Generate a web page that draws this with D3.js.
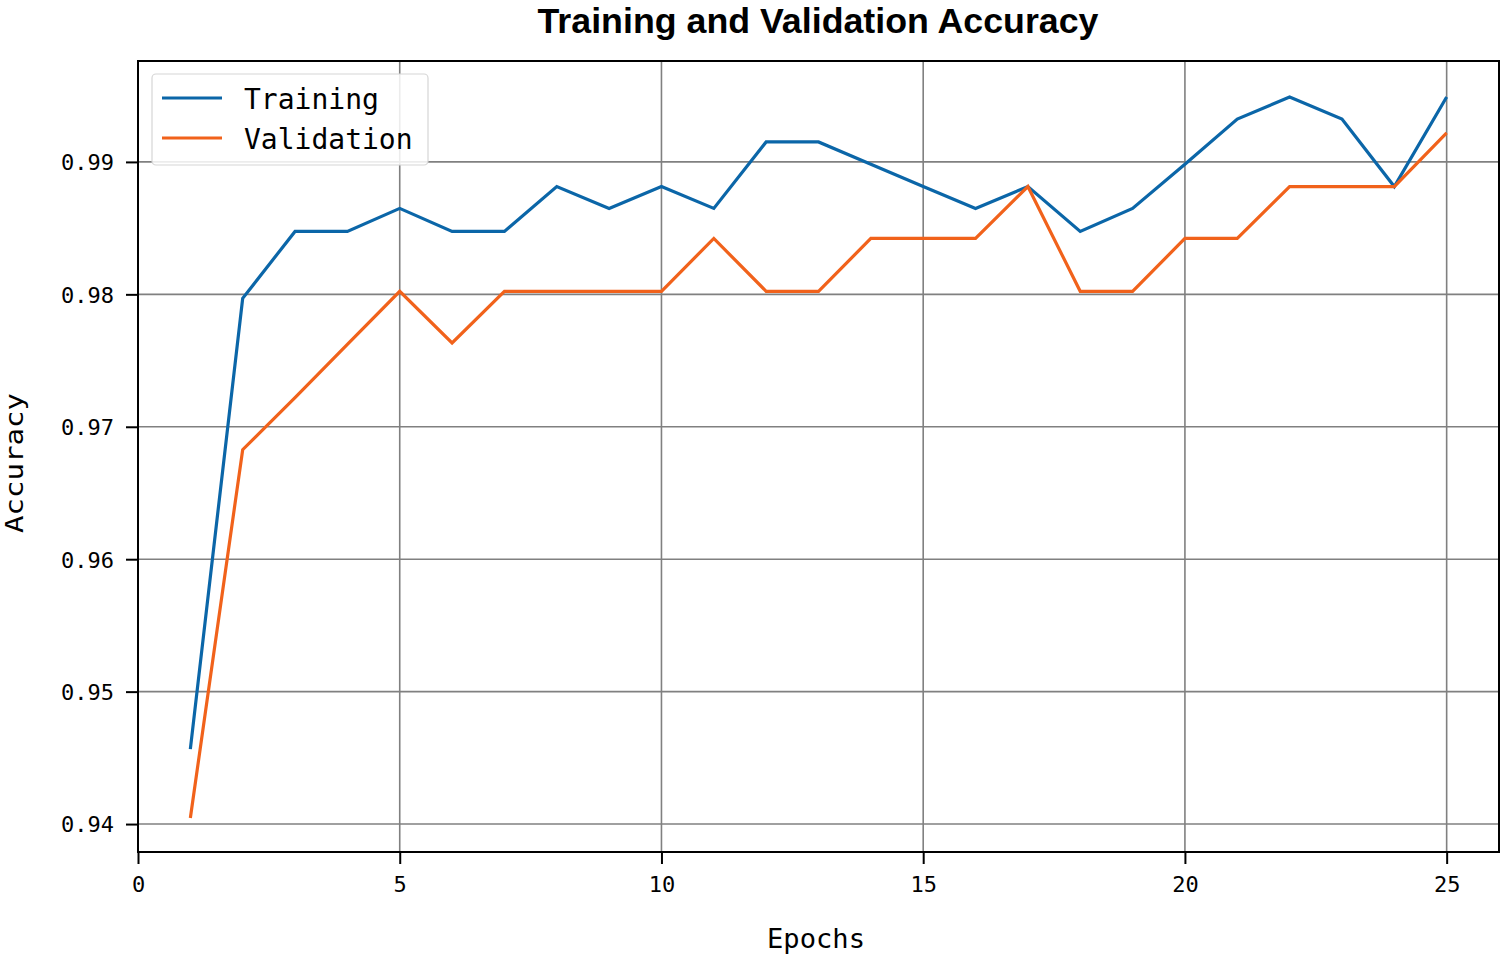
<!DOCTYPE html>
<html>
<head>
<meta charset="utf-8">
<script src="https://cdn.jsdelivr.net/npm/d3@7"></script>
<style>
  html, body { margin: 0; padding: 0; background: #fff; }
  svg { display: block; }
</style>
</head>
<body>
<script>
// ---- data ----
const epochs = [1,2,3,4,5,6,7,8,9,10,11,12,13,14,15,16,17,18,19,20,21,22,23,24,25];
const trainingAcc = [0.94566,0.97970,0.98475,0.98475,0.98649,0.98475,0.98475,0.98814,0.98649,0.98814,
                     0.98649,0.99151,0.99151,0.98983,0.98814,0.98649,0.98814,0.98475,0.98649,0.98983,
                     0.99324,0.99490,0.99324,0.98814,0.99490];
const validationAcc = [0.94045,0.96827,0.97220,0.97623,0.98023,0.97633,0.98023,0.98023,0.98023,0.98023,
                       0.98422,0.98023,0.98023,0.98422,0.98422,0.98422,0.98814,0.98023,0.98023,0.98422,
                       0.98422,0.98814,0.98814,0.98814,0.99219];
const xTicks = [0,5,10,15,20,25];
const yTicks = [0.94,0.95,0.96,0.97,0.98,0.99];
const seriesNames = ["Training","Validation"];
const seriesColors = ["#0b66a8","#f1621b"];

// ---- layout ----
const W = 1505, H = 957;
const m = {left: 138, top: 61, right: 6, bottom: 105};
const pw = W - m.left - m.right, ph = H - m.top - m.bottom;

const svg = d3.select("body").append("svg").attr("width", W).attr("height", H);
const g = svg.append("g").attr("transform", `translate(${m.left},${m.top})`);

const x = d3.scaleLinear().domain([0, 26.0]).range([0, pw]);
const y = d3.scaleLinear().domain([0.93789, 0.99762]).range([ph, 0]);

const mono = "'DejaVu Sans Mono', monospace";

// grid
g.append("g").selectAll("line").data(xTicks).join("line")
  .attr("x1", d => x(d)).attr("x2", d => x(d)).attr("y1", 0).attr("y2", ph)
  .attr("stroke", "#808080").attr("stroke-width", 1.6);
g.append("g").selectAll("line").data(yTicks).join("line")
  .attr("x1", 0).attr("x2", pw).attr("y1", d => y(d)).attr("y2", d => y(d))
  .attr("stroke", "#808080").attr("stroke-width", 1.6);

// axes
const xAxis = g.append("g").attr("transform", `translate(0,${ph})`)
  .call(d3.axisBottom(x).tickValues(xTicks).tickFormat(d3.format("d")).tickSize(12).tickPadding(12));
const yAxis = g.append("g")
  .call(d3.axisLeft(y).tickValues(yTicks).tickFormat(d3.format(".2f")).tickSize(12).tickPadding(12));
[xAxis, yAxis].forEach(a => {
  a.select(".domain").remove();
  a.selectAll(".tick line").attr("stroke", "#000").attr("stroke-width", 2);
  a.selectAll(".tick text").attr("font-family", mono).attr("font-size", 22).attr("fill", "#000");
});
xAxis.selectAll(".tick text").attr("dy", "0.71em");
yAxis.selectAll(".tick text").attr("dy", "0.36em");

// spines
g.append("rect").attr("x", 0).attr("y", 0).attr("width", pw).attr("height", ph)
  .attr("fill", "none").attr("stroke", "#000").attr("stroke-width", 2);

// lines
const line = d3.line().x((d, i) => x(epochs[i])).y(d => y(d));
[trainingAcc, validationAcc].forEach((s, k) => {
  g.append("path").datum(s).attr("d", line)
    .attr("fill", "none").attr("stroke", seriesColors[k]).attr("stroke-width", 3.2)
    .attr("stroke-linejoin", "miter");
});

// legend
const lg = svg.append("g");
lg.append("rect").attr("x", 152).attr("y", 74).attr("width", 276).attr("height", 91)
  .attr("rx", 4).attr("fill", "#fff").attr("fill-opacity", 0.85)
  .attr("stroke", "#d6d6d6").attr("stroke-width", 1.2);
seriesNames.forEach((n, i) => {
  const yy = 98 + i * 40;
  lg.append("line").attr("x1", 162).attr("x2", 222).attr("y1", yy).attr("y2", yy)
    .attr("stroke", seriesColors[i]).attr("stroke-width", 3.2);
  lg.append("text").attr("x", 244).attr("y", yy + 11).text(n)
    .attr("font-family", mono).attr("font-size", 28).attr("fill", "#000");
});

// title
svg.append("text").attr("x", 818).attr("y", 33).attr("text-anchor", "middle")
  .attr("font-family", "'Liberation Sans', Arial, sans-serif").attr("font-weight", "bold")
  .style("font-variant-ligatures", "none")
  .attr("font-size", 35.5).attr("textLength", 561).attr("lengthAdjust", "spacingAndGlyphs")
  .attr("fill", "#000").text("Training and Validation Accuracy");

// axis labels
svg.append("text").attr("x", 816).attr("y", 948).attr("text-anchor", "middle")
  .attr("font-family", mono).attr("font-size", 26).attr("textLength", 98)
  .attr("lengthAdjust", "spacingAndGlyphs").attr("fill", "#000").text("Epochs");
svg.append("text").attr("transform", "translate(23,463) rotate(-90)").attr("text-anchor", "middle")
  .attr("font-family", mono).attr("font-size", 25).attr("textLength", 140)
  .attr("lengthAdjust", "spacingAndGlyphs").attr("fill", "#000").text("Accuracy");
</script>
</body>
</html>
